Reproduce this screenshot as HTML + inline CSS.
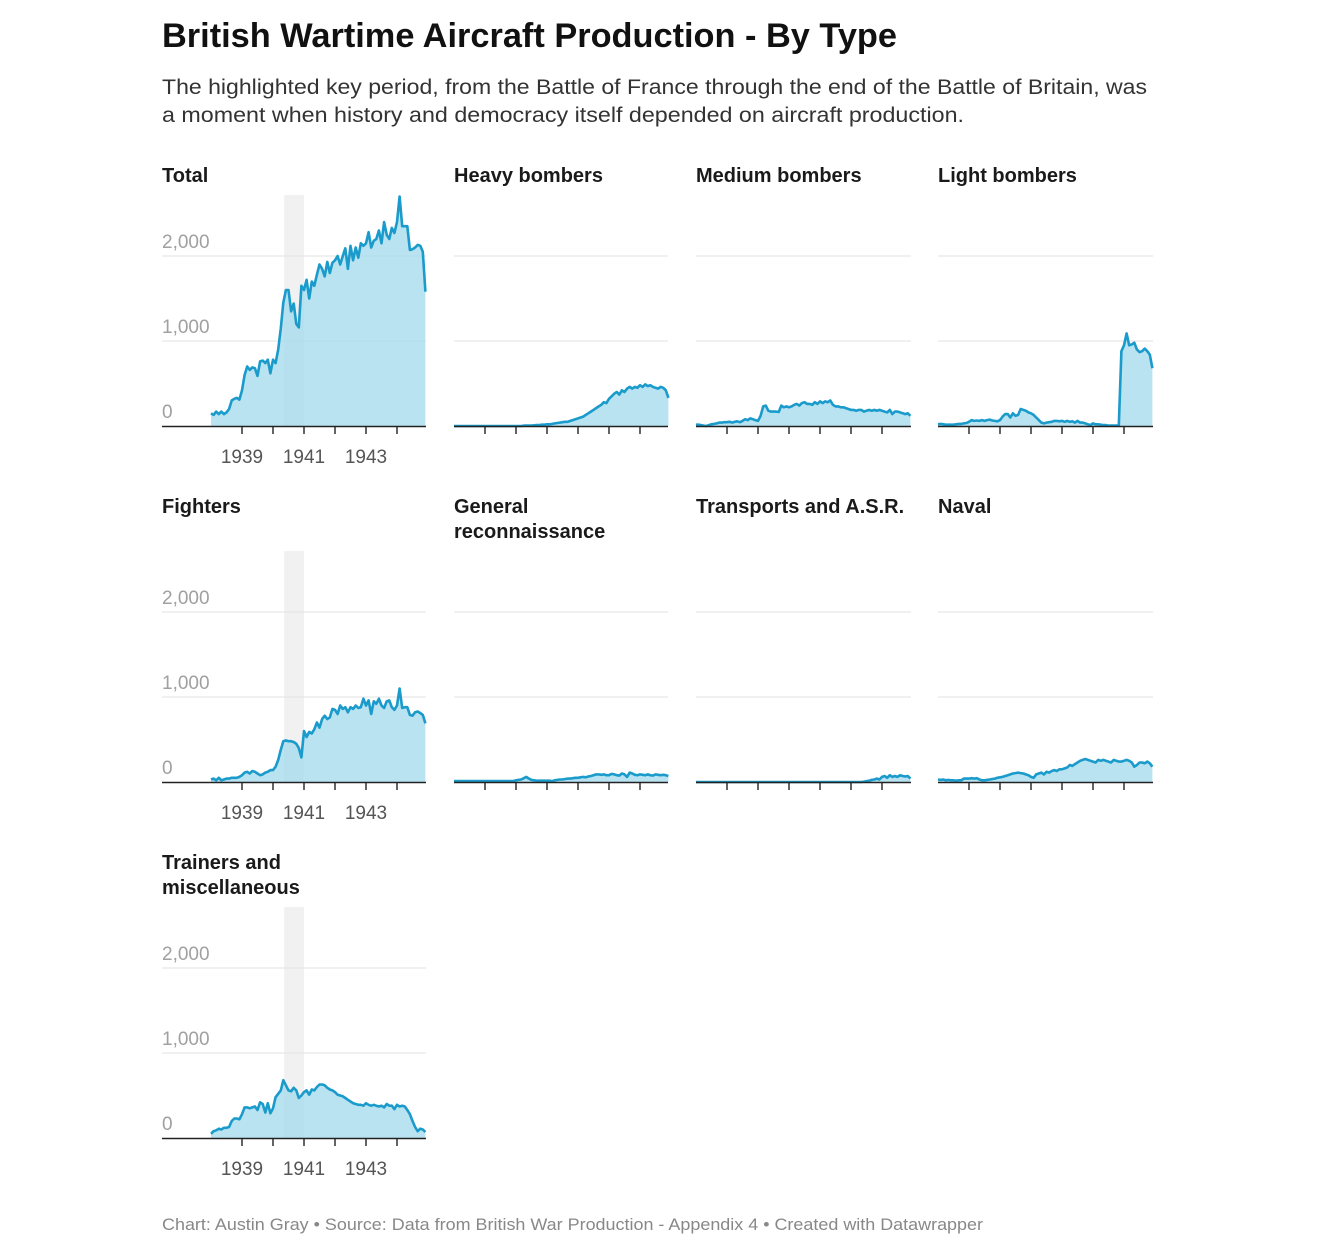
<!DOCTYPE html>
<html><head><meta charset="utf-8">
<style>
html,body{margin:0;padding:0;background:#fff;}
svg{display:block;font-family:"Liberation Sans",sans-serif;}
</style></head>
<body>
<svg id="chart" width="1318" height="1260" viewBox="0 0 1318 1260">
  <text x="162" y="47" font-size="34" font-weight="bold" fill="#111" textLength="735" lengthAdjust="spacingAndGlyphs">British Wartime Aircraft Production - By Type</text>
  <text x="162" y="94" font-size="21" fill="#333" textLength="985" lengthAdjust="spacingAndGlyphs">The highlighted key period, from the Battle of France through the end of the Battle of Britain, was</text>
  <text x="162" y="122" font-size="21" fill="#333" textLength="802" lengthAdjust="spacingAndGlyphs">a moment when history and democracy itself depended on aircraft production.</text>
  <text x="162" y="1230" font-size="17" fill="#888" textLength="821" lengthAdjust="spacingAndGlyphs">Chart: Austin Gray • Source: Data from British War Production - Appendix 4 • Created with Datawrapper</text>
  <g id="panels"></g>
</svg>
<script>
// monthly values Jan 1938 .. Dec 1944
const startYear = 1938;
const yTicks = [0, 1000, 2000];
const yTickLabels = ["0", "1,000", "2,000"];
const xTickYears = [1939, 1940, 1941, 1942, 1943, 1944];
const xLabelYears = [1939, 1941, 1943];
const highlightStart = 1940.36;
const highlightEnd = 1941.0;
const yMaxBand = 2718;

const totalData = [150,130,170,140,170,140,160,200,300,320,330,310,
 420,600,700,660,690,680,590,760,770,740,780,620,
 780,740,900,1150,1450,1600,1600,1350,1440,1200,1160,1650,
 1600,1720,1500,1700,1650,1780,1900,1850,1760,1930,1800,1920,
 1950,2000,1900,2000,2090,1850,2120,1950,2100,1980,2150,2120,
 2150,2280,2100,2180,2200,2300,2150,2400,2250,2200,2330,2270,
 2400,2700,2350,2350,2350,2070,2080,2100,2130,2120,2050,1580];
const heavyData = [0,0,0,0,0,0,0,0,0,0,0,0, 0,0,0,0,0,0,0,0,0,0,0,0,
 0,0,0,5,5,5,5,8,10,10,15,15,
 20,20,25,30,35,40,45,50,50,60,70,80,
 90,100,110,130,150,170,190,210,230,250,280,270,
 320,350,380,400,370,420,400,440,460,440,460,450,
 480,460,490,470,480,460,450,440,460,450,420,330];
const mediumData = [15,15,10,5,0,10,20,25,30,40,40,45,
 45,50,40,50,55,45,60,80,70,90,80,70,
 60,120,230,240,180,170,170,170,165,240,220,230,
 220,230,250,260,240,270,280,260,260,250,280,260,
 290,270,290,280,300,250,230,230,220,220,210,200,
 190,190,180,190,190,170,180,190,180,190,180,190,
 180,170,160,190,140,170,170,160,150,140,150,120];
const lightData = [20,25,20,15,15,15,15,20,25,25,30,35,
 50,70,60,65,60,70,60,70,75,65,60,55,
 70,110,140,140,100,150,120,130,200,190,180,160,
 150,130,100,70,40,30,40,45,50,60,60,55,
 60,50,60,50,55,40,60,40,40,30,20,10,
 30,20,20,15,10,10,5,5,5,5,5,880,
 950,1090,950,960,980,900,870,880,910,880,840,680];
const fighterData = [30,40,20,50,20,30,40,40,50,50,50,60,
 80,110,120,100,130,120,100,80,90,110,120,140,
 140,180,260,380,480,490,480,480,470,450,400,290,
 600,530,590,570,620,700,640,740,780,740,760,860,
 850,800,900,860,880,820,880,860,900,870,880,980,
 900,960,800,950,920,980,900,870,950,960,880,850,
 900,1100,870,880,880,790,780,820,830,810,790,690];
const reconData = [10,10,10,10,10,10,10,10,10,10,10,10,
 10,10,10,10,10,10,10,10,10,10,10,10,
 20,25,30,45,60,40,25,20,15,15,15,15,
 15,15,10,20,25,30,30,35,40,40,45,50,
 50,55,60,55,65,70,80,90,90,85,90,80,
 80,95,90,80,75,100,90,60,110,100,85,80,
 90,85,80,90,80,75,90,85,80,85,80,70];
const transportData = [0,0,0,0,0,0,0,0,0,0,0,0, 0,0,0,0,0,0,0,0,0,0,0,0,
 0,0,0,0,0,0,0,0,0,0,0,0, 0,0,0,0,0,0,0,0,0,0,0,0,
 0,0,0,0,0,0,0,0,0,0,0,0,
 0,0,0,0,0,5,10,15,25,30,40,30,
 60,70,50,80,60,70,60,80,70,65,70,40];
const navalData = [30,25,30,20,25,20,20,15,20,20,40,40,
 40,45,40,45,30,20,20,25,30,35,40,50,
 55,60,70,80,90,100,105,110,105,100,90,80,
 60,50,90,100,110,90,120,110,130,140,130,150,
 150,160,170,200,190,210,230,250,260,270,260,250,
 240,230,260,250,260,250,240,230,260,250,240,240,
 250,260,250,230,180,200,230,230,220,240,220,180];
const trainersData = [50,80,90,110,100,120,120,130,200,230,230,220,
 280,360,360,350,360,370,330,420,400,300,410,290,
 350,480,520,560,680,620,560,550,590,560,470,500,
 540,560,510,570,560,600,630,630,620,590,570,560,
 540,510,500,490,470,450,430,410,400,390,390,380,
 410,390,380,390,380,370,380,360,400,380,380,340,
 390,370,380,370,330,280,200,130,80,110,100,70];

const panels = [
 {title:["Total"], name:"total", col:0, row:0, data:totalData},
 {title:["Heavy bombers"], name:"heavy-bombers", col:1, row:0, data:heavyData},
 {title:["Medium bombers"], name:"medium-bombers", col:2, row:0, data:mediumData},
 {title:["Light bombers"], name:"light-bombers", col:3, row:0, data:lightData},
 {title:["Fighters"], name:"fighters", col:0, row:1, data:fighterData},
 {title:["General","reconnaissance"], name:"general-reconnaissance", col:1, row:1, data:reconData},
 {title:["Transports and A.S.R."], name:"transports-asr", col:2, row:1, data:transportData},
 {title:["Naval"], name:"naval", col:3, row:1, data:navalData},
 {title:["Trainers and","miscellaneous"], name:"trainers-misc", col:0, row:2, data:trainersData},
];

const NS = "http://www.w3.org/2000/svg";
const root = document.getElementById("panels");
const colLeft = [162, 454, 696, 938];
const colDataStart = [211, 454, 696, 938];
const colRight = [426, 668, 911, 1153];
const rowBase = [426, 782, 1138];
const rowTitleOffset = [244, 269, 269];
const pxPerYear = 31;
const pxPerUnit = 0.085;

function mk(tag, attrs, parent){
  const e = document.createElementNS(NS, tag);
  for (const k in attrs) e.setAttribute(k, attrs[k]);
  parent.appendChild(e);
  return e;
}

panels.forEach(p => {
  const g = mk("g", {}, root);
  
  
  const x0 = colDataStart[p.col], L = colLeft[p.col], R = colRight[p.col], base = rowBase[p.row];
  const xs = t => x0 + (t - startYear) * pxPerYear;
  const xm = i => xs(startYear + i / 12);
  const ys = v => base - v * pxPerUnit;

  if (p.col === 0) {
    const r = mk("rect", {x: xs(highlightStart), y: ys(yMaxBand), width: xs(highlightEnd) - xs(highlightStart), height: ys(0) - ys(yMaxBand), fill: "#ececec", opacity: 0.75}, g);
    
    
  }

  p.title.forEach((line, k) => {
    const t = mk("text", {x: L, y: base - rowTitleOffset[p.row] + k * 25, "font-size": 20, "font-weight": "bold", fill: "#1a1a1a"}, g);
    
    
    t.textContent = line;
  });

  yTicks.forEach((v, k) => {
    if (v > 0) {
      const l = mk("line", {x1: L, x2: R, y1: ys(v), y2: ys(v), stroke: "#e2e2e2", "stroke-width": 1}, g);
      
      
    }
    if (p.col === 0) {
      const t = mk("text", {x: L, y: ys(v) - 8, "font-size": 19, fill: "#a0a0a0"}, g);
      
      
      t.textContent = yTickLabels[k];
    }
  });

  let d = "";
  p.data.forEach((v, i) => { d += (i ? "L" : "M") + xm(i).toFixed(1) + "," + ys(v).toFixed(1); });
  const area = mk("path", {d: d + "L" + xm(p.data.length - 1).toFixed(1) + "," + base + "L" + xm(0).toFixed(1) + "," + base + "Z", fill: "#a8dcee", opacity: 0.8}, g);
  
  
  const line = mk("path", {d: d, fill: "none", stroke: "#1a9bcb", "stroke-width": 2.6, "stroke-linejoin": "round"}, g);
  
  

  const ax = mk("line", {x1: L, x2: R, y1: base + 0.5, y2: base + 0.5, stroke: "#222", "stroke-width": 1.6}, g);
  
  
  xTickYears.forEach(yr => {
    const tk = mk("line", {x1: xs(yr), x2: xs(yr), y1: base, y2: base + 8, stroke: "#222", "stroke-width": 1.4}, g);
    
    
  });
  if (p.col === 0) {
    xLabelYears.forEach(yr => {
      const t = mk("text", {x: xs(yr), y: base + 37, "font-size": 19, fill: "#555", "text-anchor": "middle"}, g);
      
      
      t.textContent = yr;
    });
  }
});
</script>
</body></html>
